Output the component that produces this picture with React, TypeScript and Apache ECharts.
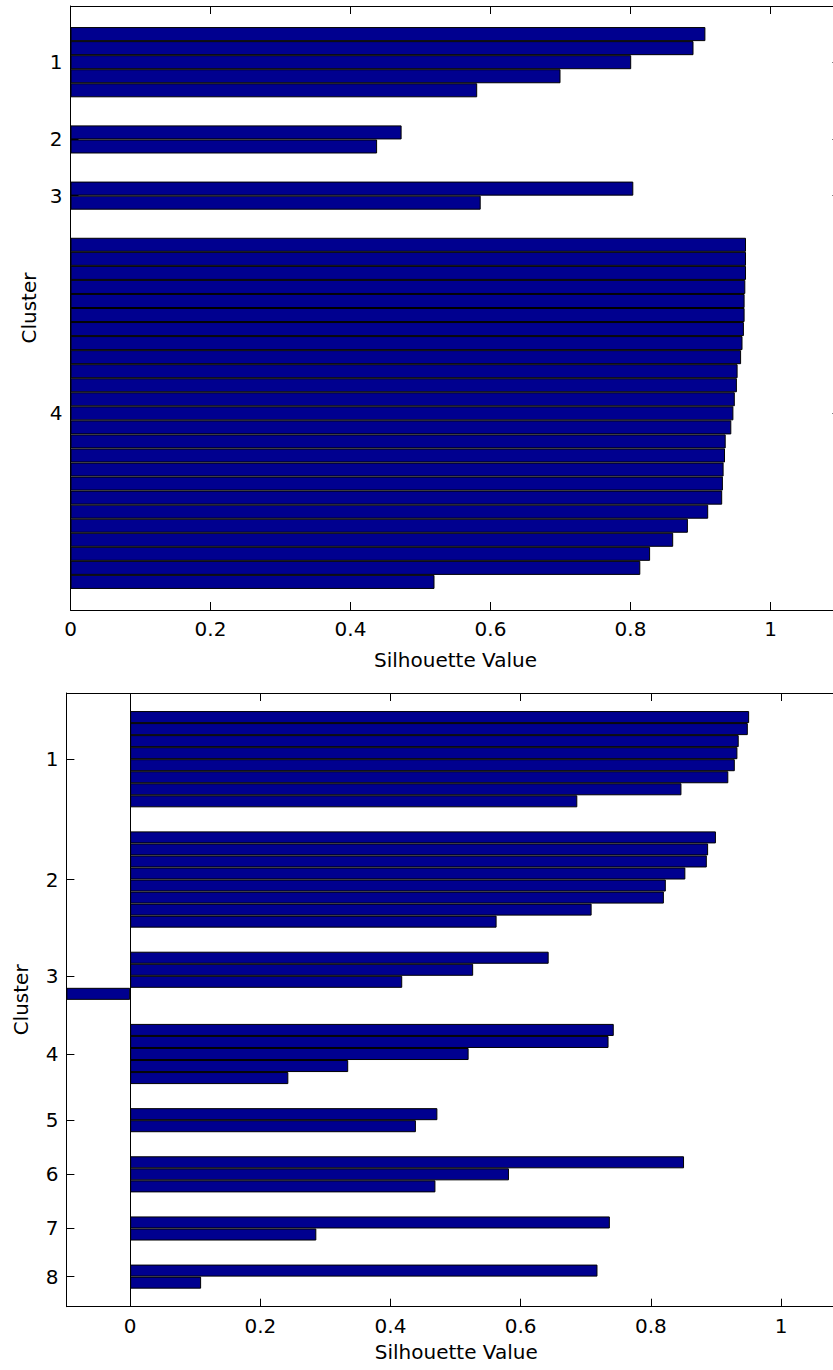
import React, { useEffect, useRef } from 'react';
import * as echarts from 'echarts';

// ---- Data (silhouette values, sorted within each cluster) ----
const topClusterNames = ['1', '2', '3', '4'];
const topCluster1 = [0.907, 0.89, 0.801, 0.7, 0.581];
const topCluster2 = [0.473, 0.438];
const topCluster3 = [0.804, 0.586];
const topCluster4 = [
  0.965, 0.965, 0.965, 0.964, 0.963, 0.963, 0.962, 0.96, 0.958, 0.953, 0.952, 0.949, 0.947,
  0.944, 0.936, 0.935, 0.933, 0.932, 0.931, 0.911, 0.882, 0.861, 0.828, 0.814, 0.52,
];

const bottomClusterNames = ['1', '2', '3', '4', '5', '6', '7', '8'];
const bottomCluster1 = [0.951, 0.949, 0.935, 0.933, 0.929, 0.919, 0.847, 0.687];
const bottomCluster2 = [0.9, 0.888, 0.886, 0.853, 0.823, 0.82, 0.709, 0.563];
const bottomCluster3 = [0.643, 0.527, 0.418, -0.098];
const bottomCluster4 = [0.743, 0.735, 0.52, 0.335, 0.243];
const bottomCluster5 = [0.472, 0.439];
const bottomCluster6 = [0.851, 0.582, 0.469];
const bottomCluster7 = [0.737, 0.286];
const bottomCluster8 = [0.718, 0.109];

const xMax = 1.1;
const axisTitleX = 'Silhouette Value';
const axisTitleY = 'Cluster';

const FONT = 'DejaVu Sans';
const BAR_COLOR = '#00008f';
const INK = '#000';

function buildSilhouette(clusters: number[][], names: string[]) {
  const space = 2;
  const bars: (number | null)[] = [];
  for (let i = 0; i < space; i++) bars.push(null);
  const tickPos: number[] = [];
  clusters.forEach((c) => {
    const start = bars.length + 1;
    c.forEach((v) => bars.push(v));
    tickPos.push(start + (c.length - 1) / 2);
    for (let i = 0; i < space; i++) bars.push(null);
  });
  const L = bars.length;
  const posCats: string[] = [];
  for (let p = 1; p <= L; p++) posCats.push(String(p));
  const halfCats: string[] = [];
  for (let k = 0; k <= 2 * (L - 1); k++) halfCats.push(String(1 + k / 2));
  const tickIdx = new Set<number>();
  const labelByValue: Record<string, string> = {};
  tickPos.forEach((t, i) => {
    tickIdx.add(Math.round((t - 1) * 2));
    labelByValue[String(t)] = names[i];
  });
  const all = clusters.flat();
  const xMin = Math.min(0, ...all);
  return { bars, posCats, halfCats, tickIdx, labelByValue, xMin };
}

function panelOption(
  gi: number,
  clusters: number[][],
  names: string[],
  nameGapX: number,
  nameGapY: number,
  showBaseline: boolean
) {
  const d = buildSilhouette(clusters, names);
  const lineStyle = { color: INK, width: 1 };
  const textStyle = { fontFamily: FONT, fontSize: 20, color: INK };
  const xBottom: any = {
    type: 'value',
    gridIndex: gi,
    position: 'bottom',
    min: d.xMin,
    max: xMax,
    splitNumber: 5,
    axisLine: { show: true, onZero: false, lineStyle },
    axisTick: { show: true, inside: true, length: 8, lineStyle },
    axisLabel: {
      show: true,
      margin: 9,
      ...textStyle,
      showMinLabel: d.xMin === 0,
      showMaxLabel: false,
    },
    splitLine: { show: false },
    name: axisTitleX,
    nameLocation: 'middle',
    nameGap: nameGapX,
    nameTextStyle: textStyle,
  };
  if (d.xMin === 0) xBottom.interval = 0.2;
  const xTop: any = {
    ...xBottom,
    position: 'top',
    axisLabel: { show: false },
    name: '',
  };
  const yBars = {
    type: 'category',
    gridIndex: gi,
    data: d.posCats,
    boundaryGap: false,
    inverse: true,
    show: false,
  };
  const yLeft = {
    type: 'category',
    gridIndex: gi,
    data: d.halfCats,
    boundaryGap: false,
    inverse: true,
    position: 'left',
    axisLine: { show: true, onZero: false, lineStyle },
    axisTick: {
      show: true,
      inside: true,
      length: 8,
      lineStyle,
      interval: (idx: number) => d.tickIdx.has(idx),
    },
    axisLabel: {
      show: true,
      margin: 8,
      ...textStyle,
      interval: (idx: number) => d.tickIdx.has(idx),
      formatter: (v: string) => d.labelByValue[v] ?? '',
    },
    splitLine: { show: false },
    name: axisTitleY,
    nameLocation: 'middle',
    nameGap: nameGapY,
    nameRotate: 90,
    nameTextStyle: textStyle,
  };
  const yRight = {
    ...yLeft,
    position: 'right',
    axisLabel: { show: false },
    name: '',
  };
  const series: any = {
    type: 'bar',
    xAxisIndex: gi * 2,
    yAxisIndex: gi * 3,
    data: d.bars.map((v) => (v === null ? '-' : v)),
    barWidth: '100%',
    barCategoryGap: '0%',
    silent: true,
    itemStyle: { color: BAR_COLOR, borderColor: INK, borderWidth: 1 },
  };
  if (showBaseline) {
    series.markLine = {
      silent: true,
      symbol: ['none', 'none'],
      label: { show: false },
      lineStyle: { color: INK, width: 1, type: 'solid' },
      data: [{ xAxis: 0 }],
    };
  }
  return { xAxes: [xBottom, xTop], yAxes: [yBars, yLeft, yRight], series };
}

export default function App() {
  const ref = useRef<HTMLDivElement>(null);
  useEffect(() => {
    if (!ref.current) return;
    const chart = echarts.init(ref.current, undefined, { renderer: 'svg' });
    const top = panelOption(
      0,
      [topCluster1, topCluster2, topCluster3, topCluster4],
      topClusterNames,
      40,
      32,
      false
    );
    const bottom = panelOption(
      1,
      [
        bottomCluster1,
        bottomCluster2,
        bottomCluster3,
        bottomCluster4,
        bottomCluster5,
        bottomCluster6,
        bottomCluster7,
        bottomCluster8,
      ],
      bottomClusterNames,
      35,
      35,
      true
    );
    chart.setOption({
      animation: false,
      backgroundColor: '#fff',
      grid: [
        { left: 70.5, top: 6, width: 770, height: 604, containLabel: false },
        { left: 66.4, top: 693, width: 779.7, height: 613.7, containLabel: false },
      ],
      xAxis: [...top.xAxes, ...bottom.xAxes],
      yAxis: [...top.yAxes, ...bottom.yAxes],
      series: [top.series, bottom.series],
    });
    return () => chart.dispose();
  }, []);
  return (
    <div
      style={{
        position: 'fixed',
        left: 0,
        top: 0,
        width: 833,
        height: 1370,
        overflow: 'hidden',
        background: '#fff',
      }}
    >
      <div ref={ref} style={{ width: 860, height: 1370 }} />
    </div>
  );
}
